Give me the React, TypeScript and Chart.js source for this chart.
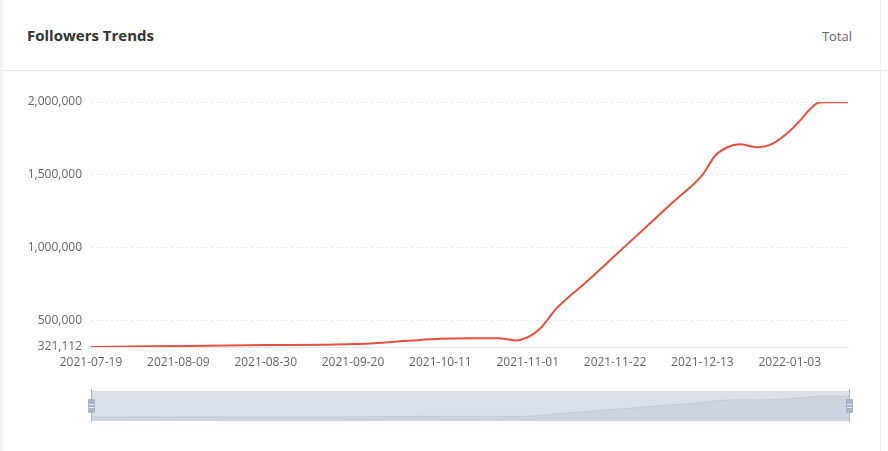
import { useEffect, useRef } from 'react';
import { Chart, registerables } from 'chart.js';

Chart.register(...registerables);

// ---- data ----
const dates = [
  '2021-07-19', '2021-08-02', '2021-08-16', '2021-08-30', '2021-09-13', '2021-09-20',
  '2021-09-27', '2021-10-04', '2021-10-11', '2021-10-18', '2021-10-25', '2021-10-29',
  '2021-11-01', '2021-11-04', '2021-11-08', '2021-11-15', '2021-11-22', '2021-11-29',
  '2021-12-06', '2021-12-13', '2021-12-16', '2021-12-19', '2021-12-22', '2021-12-26',
  '2021-12-30', '2022-01-03', '2022-01-06', '2022-01-08', '2022-01-10', '2022-01-11',
  '2022-01-17',
];
const followers = [
  321112, 326000, 330000, 334000, 337000, 341000,
  351000, 365000, 377000, 381000, 381000, 366000,
  388000, 448000, 588000, 765000, 948000, 1132000,
  1316000, 1500000, 1630000, 1690000, 1710000, 1690000,
  1717000, 1801000, 1890000, 1955000, 1996000, 1998000,
  1998000,
];
const xTickLabels = [
  '2021-07-19', '2021-08-09', '2021-08-30', '2021-09-20', '2021-10-11',
  '2021-11-01', '2021-11-22', '2021-12-13', '2022-01-03',
];
const yTickValues = [321112, 500000, 1000000, 1500000, 2000000];

const DAY = 86400000;
const t0 = Date.parse(dates[0]);
const dayOf = (d: string) => Math.round((Date.parse(d) - t0) / DAY);
const points = dates.map((d, i) => ({ x: dayOf(d), y: followers[i] }));
const xTickDays = xTickLabels.map(dayOf);
const lastDay = dayOf(dates[dates.length - 1]);

const FONT = "'Open Sans', 'DejaVu Sans', sans-serif";

export default function App() {
  const mainRef = useRef<HTMLCanvasElement | null>(null);
  const zoomRef = useRef<HTMLCanvasElement | null>(null);

  useEffect(() => {
    const main = new Chart(mainRef.current as HTMLCanvasElement, {
      type: 'line',
      data: {
        datasets: [
          {
            data: points,
            borderColor: '#e8503e',
            borderWidth: 2,
            pointRadius: 0,
            fill: false,
            cubicInterpolationMode: 'monotone',
          },
        ],
      },
      options: {
        animation: false,
        responsive: false,
        devicePixelRatio: 1,
        layout: { padding: { left: 0, right: 40, top: 102, bottom: 74 } },
        plugins: { legend: { display: false }, tooltip: { enabled: false } },
        scales: {
          x: {
            type: 'linear',
            min: 0,
            max: lastDay,
            afterBuildTicks: (s: any) => {
              s.ticks = xTickDays.map((v) => ({ value: v }));
            },
            afterFit: (s: any) => {
              s.height = 30;
            },
            grid: { display: false },
            border: { display: true, color: '#e2e5eb', width: 1 },
            ticks: {
              callback: (_v: any, i: number) => xTickLabels[i],
              color: '#666',
              font: { family: FONT, size: 12 },
              padding: 0,
              maxRotation: 0,
              autoSkip: false,
            },
          },
          y: {
            type: 'linear',
            min: yTickValues[0],
            max: yTickValues[yTickValues.length - 1],
            afterBuildTicks: (s: any) => {
              s.ticks = yTickValues.map((v) => ({ value: v }));
            },
            afterFit: (s: any) => {
              s.width = 91;
            },
            grid: {
              color: (ctx: any) => (ctx.tick && ctx.tick.value === yTickValues[0] ? 'rgba(0,0,0,0)' : '#e9e9e9'),
              drawTicks: false,
              lineWidth: 1,
            },
            border: { display: false, dash: [2, 3] },
            ticks: {
              callback: (v: any) => Number(v).toLocaleString('en-US'),
              color: '#666',
              font: { family: FONT, size: 12 },
              padding: 9,
            },
          },
        },
      },
    });

    const zoom = new Chart(zoomRef.current as HTMLCanvasElement, {
      type: 'line',
      data: {
        datasets: [
          {
            data: points,
            borderColor: '#c4cbd6',
            borderWidth: 1,
            pointRadius: 0,
            fill: 'start',
            backgroundColor: '#cdd4df',
            cubicInterpolationMode: 'monotone',
          },
        ],
      },
      options: {
        animation: false,
        responsive: false,
        devicePixelRatio: 1,
        layout: { padding: 0 },
        plugins: { legend: { display: false }, tooltip: { enabled: false } },
        scales: {
          x: { type: 'linear', display: false, min: 0, max: lastDay },
          y: { type: 'linear', display: false, min: 0, max: 2420000 },
        },
      },
      plugins: [
        {
          id: 'sliderBg',
          beforeDraw(c: any) {
            const { ctx, chartArea: a } = c;
            ctx.save();
            ctx.fillStyle = '#d9e0ea';
            ctx.fillRect(a.left, a.top, a.width, a.height);
            ctx.restore();
          },
        },
      ],
    });

    return () => {
      main.destroy();
      zoom.destroy();
    };
  }, []);

  const handle = (left: number) => (
    <div
      style={{
        position: 'absolute',
        left,
        top: 399,
        width: 7,
        height: 14,
        background: '#a9b5c7',
        borderRadius: 1,
      }}
    >
      <div style={{ position: 'absolute', left: 1, top: 5, width: 5, height: 1, background: '#e6ebf2' }} />
      <div style={{ position: 'absolute', left: 1, top: 8, width: 5, height: 1, background: '#e6ebf2' }} />
    </div>
  );

  return (
    <div
      style={{
        position: 'fixed',
        left: 0,
        top: 0,
        width: 888,
        height: 451,
        background: '#fff',
        overflow: 'hidden',
        fontFamily: FONT,
      }}
    >
      <div style={{ position: 'absolute', left: 0, top: 0, width: 3, height: 451, background: '#f3f3f3' }} />
      <div style={{ position: 'absolute', left: 880, top: 0, width: 1, height: 451, background: '#f1f1f1' }} />
      <div
        style={{
          position: 'absolute',
          left: 27,
          top: 25,
          fontSize: 15,
          lineHeight: '20px',
          fontWeight: 700,
          color: '#333',
          whiteSpace: 'nowrap',
        }}
      >
        Followers Trends
      </div>
      <div
        style={{
          position: 'absolute',
          right: 36,
          top: 26,
          fontSize: 13,
          lineHeight: '20px',
          color: '#666',
          whiteSpace: 'nowrap',
        }}
      >
        Total
      </div>
      <div style={{ position: 'absolute', left: 3, top: 70, width: 885, height: 1, background: '#e8e8e8' }} />
      <canvas
        ref={mainRef}
        width={888}
        height={451}
        style={{ position: 'absolute', left: 0, top: 0, width: 888, height: 451 }}
      />
      <canvas
        ref={zoomRef}
        width={757}
        height={30}
        style={{ position: 'absolute', left: 92, top: 391, width: 757, height: 30 }}
      />
      <div style={{ position: 'absolute', left: 92, top: 391, width: 757, height: 1, background: '#d3dae5' }} />
      <div style={{ position: 'absolute', left: 91, top: 389, width: 1, height: 33, background: '#a9b3c3' }} />
      <div style={{ position: 'absolute', left: 849, top: 389, width: 1, height: 33, background: '#a9b3c3' }} />
      {handle(88)}
      {handle(846)}
    </div>
  );
}
